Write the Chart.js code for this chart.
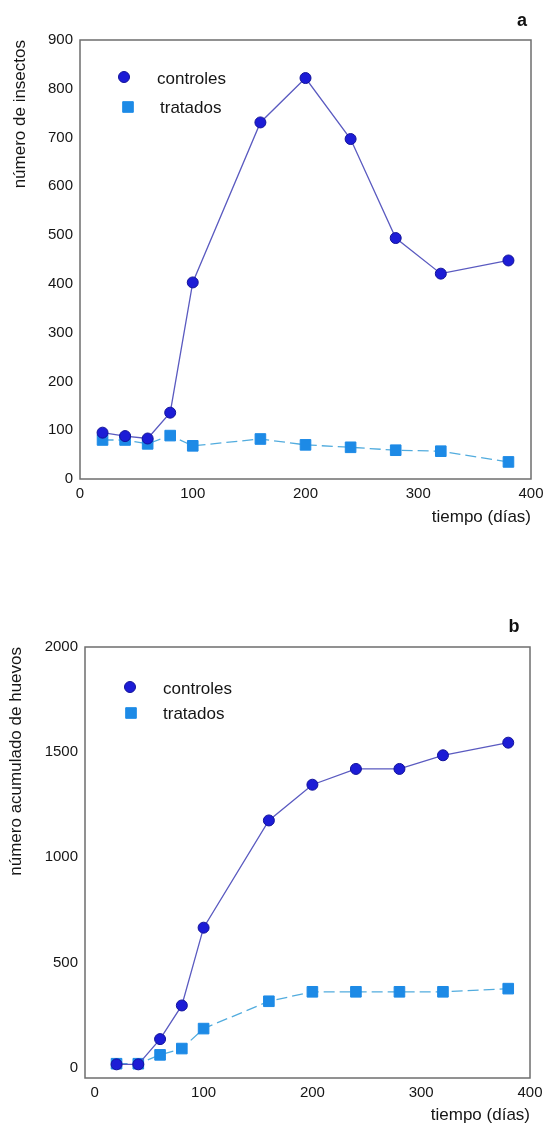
<!DOCTYPE html>
<html>
<head>
<meta charset="utf-8">
<script src="https://cdn.jsdelivr.net/npm/chart.js@4/dist/chart.umd.min.js"></script>
<style>
  html, body { margin: 0; padding: 0; background: #ffffff; }
  .wrap { position: absolute; left: 0; width: 544px; height: 563px; }
  canvas { display: block; }
</style>
</head>
<body>
<div class="wrap" style="top:0px"><canvas id="chartA" width="544" height="563"></canvas></div>
<div class="wrap" style="top:563px"><canvas id="chartB" width="544" height="563"></canvas></div>
<script>
// ---- Data ----
const dias = [20, 40, 60, 80, 100, 160, 200, 240, 280, 320, 380];

const insectosControles = [95, 88, 83, 136, 403, 731, 822, 697, 494, 421, 448];
const insectosTratados  = [80, 80, 72, 89, 68, 82, 70, 65, 59, 57, 35];

const huevosControles = [15, 15, 135, 295, 665, 1175, 1345, 1420, 1420, 1485, 1545];
const huevosTratados  = [18, 18, 60, 90, 185, 315, 360, 360, 360, 360, 375];

const seriesNames = ['controles', 'tratados'];
const xTitle = 'tiempo (días)';
const yTitleA = 'número de insectos';
const yTitleB = 'número acumulado de huevos';
const panelA = 'a';
const panelB = 'b';

const xTicksA = [0, 100, 200, 300, 400];
const yTicksA = [0, 100, 200, 300, 400, 500, 600, 700, 800, 900];
const xTicksB = [0, 100, 200, 300, 400];
const yTicksB = [0, 500, 1000, 1500, 2000];

// ---- Styles ----
const FONT = "'Liberation Sans', Arial, Helvetica, sans-serif";
const C_CTRL = '#1c1cd6';
const C_CTRL_EDGE = '#12129a';
const C_CTRL_LINE = '#5a5ac0';
const C_TRAT = '#1d8ae6';
const C_TRAT_LINE = '#52acde';

const toPoints = (xs, ys) => xs.map((x, i) => ({ x: x, y: ys[i] }));

const boxPlugin = {
  id: 'plotBox',
  afterDraw(chart) {
    const a = chart.chartArea, ctx = chart.ctx;
    ctx.save();
    ctx.strokeStyle = '#6e6e6e';
    ctx.lineWidth = 1.5;
    ctx.strokeRect(a.left, a.top, a.right - a.left, a.bottom - a.top);
    ctx.restore();
  }
};

const insetLegendPlugin = {
  id: 'insetLegend',
  afterDraw(chart, args, opts) {
    const a = chart.chartArea, ctx = chart.ctx;
    ctx.save();
    chart.data.datasets.forEach((ds, i) => {
      const it = opts.items[i];
      const mx = a.left + it.mx, my = a.top + it.my;
      ctx.fillStyle = ds.pointBackgroundColor;
      ctx.strokeStyle = ds.pointBorderColor;
      ctx.lineWidth = ds.pointBorderWidth;
      Chart.helpers.drawPoint(ctx, {
        pointStyle: ds.pointStyle, radius: ds.pointRadius, rotation: 0,
        borderWidth: ds.pointBorderWidth
      }, mx, my);
      ctx.fillStyle = '#151515';
      ctx.font = '17px ' + FONT;
      ctx.textAlign = 'left';
      ctx.textBaseline = 'middle';
      ctx.fillText(ds.label, a.left + it.tx, a.top + it.ty);
    });
    ctx.restore();
  }
};

const panelLetterPlugin = {
  id: 'panelLetter',
  afterDraw(chart, args, opts) {
    const ctx = chart.ctx;
    ctx.save();
    ctx.fillStyle = '#111';
    ctx.font = 'bold 18px ' + FONT;
    ctx.textAlign = 'center';
    ctx.textBaseline = 'middle';
    ctx.fillText(opts.text, opts.x, opts.y);
    ctx.restore();
  }
};

function makeChart(id, cfg) {
  return new Chart(document.getElementById(id), {
    type: 'line',
    data: {
      datasets: [
        {
          label: seriesNames[0],
          data: toPoints(dias, cfg.ctrl),
          borderColor: C_CTRL_LINE,
          borderWidth: 1.3,
          pointStyle: 'circle',
          pointRadius: 5.5,
          pointBackgroundColor: C_CTRL,
          pointBorderColor: C_CTRL_EDGE,
          pointBorderWidth: 1,
          tension: 0,
          order: 1
        },
        {
          label: seriesNames[1],
          data: toPoints(dias, cfg.trat),
          borderColor: C_TRAT_LINE,
          borderWidth: 1.3,
          borderDash: [11, 5],
          pointStyle: 'rect',
          pointRadius: 7.5,
          pointBackgroundColor: C_TRAT,
          pointBorderColor: C_TRAT,
          pointBorderWidth: 1,
          tension: 0,
          order: 2
        }
      ]
    },
    options: {
      responsive: false,
      animation: false,
      devicePixelRatio: 1,
      layout: { padding: { left: 0, top: cfg.padTop, right: cfg.padRight, bottom: 0 } },
      plugins: {
        legend: { display: false },
        tooltip: { enabled: false },
        insetLegend: { items: cfg.legendItems },
        panelLetter: cfg.letter
      },
      scales: {
        x: {
          type: 'linear',
          min: cfg.xMin, max: 400,
          grid: { display: false, drawTicks: false },
          border: { display: false },
          afterBuildTicks: s => { s.ticks = cfg.xTicks.map(v => ({ value: v })); },
          afterFit: s => { s.height = cfg.xAxisH; s.paddingLeft = 0; s.paddingRight = 0; },
          ticks: { padding: 6, color: '#151515', font: { family: FONT, size: 15 }, maxRotation: 0,
                   callback: v => String(v) },
          title: {
            display: true, text: xTitle, align: 'end',
            color: '#151515', font: { family: FONT, size: 17 },
            padding: { top: 0, bottom: cfg.xTitlePadBottom }
          }
        },
        y: {
          type: 'linear',
          min: cfg.yMin, max: cfg.yMax,
          grid: { display: false, drawTicks: false },
          border: { display: false },
          afterBuildTicks: s => { s.ticks = cfg.yTicks.map(v => ({ value: v })); },
          afterFit: s => { s.width = cfg.yAxisW; },
          ticks: { padding: 7, color: '#151515', font: { family: FONT, size: 15 },
                   callback: v => String(v) },
          title: {
            display: true, text: cfg.yTitle, align: 'end',
            color: '#151515', font: { family: FONT, size: 17 },
            padding: { top: cfg.yTitlePadTop, bottom: 0 }
          }
        }
      }
    },
    plugins: [boxPlugin, insetLegendPlugin, panelLetterPlugin]
  });
}

makeChart('chartA', {
  ctrl: insectosControles, trat: insectosTratados,
  xMin: 0, yMin: 0, yMax: 900,
  xTicks: xTicksA, yTicks: yTicksA,
  yTitle: yTitleA,
  padTop: 40, padRight: 13, yAxisW: 80, xAxisH: 84,
  xTitlePadBottom: 35, yTitlePadTop: 10,
  legendItems: [
    { mx: 44, my: 37, tx: 77, ty: 39 },
    { mx: 48, my: 67, tx: 80, ty: 68 }
  ],
  letter: { text: panelA, x: 522, y: 21 }
});

makeChart('chartB', {
  ctrl: huevosControles, trat: huevosTratados,
  xMin: -9, yMin: -50, yMax: 2000,
  xTicks: xTicksB, yTicks: yTicksB,
  yTitle: yTitleB,
  padTop: 84, padRight: 14, yAxisW: 85, xAxisH: 48,
  xTitlePadBottom: 0, yTitlePadTop: 6,
  legendItems: [
    { mx: 45, my: 40, tx: 78, ty: 42 },
    { mx: 46, my: 66, tx: 78, ty: 67 }
  ],
  letter: { text: panelB, x: 514, y: 64 }
});
</script>
</body>
</html>
